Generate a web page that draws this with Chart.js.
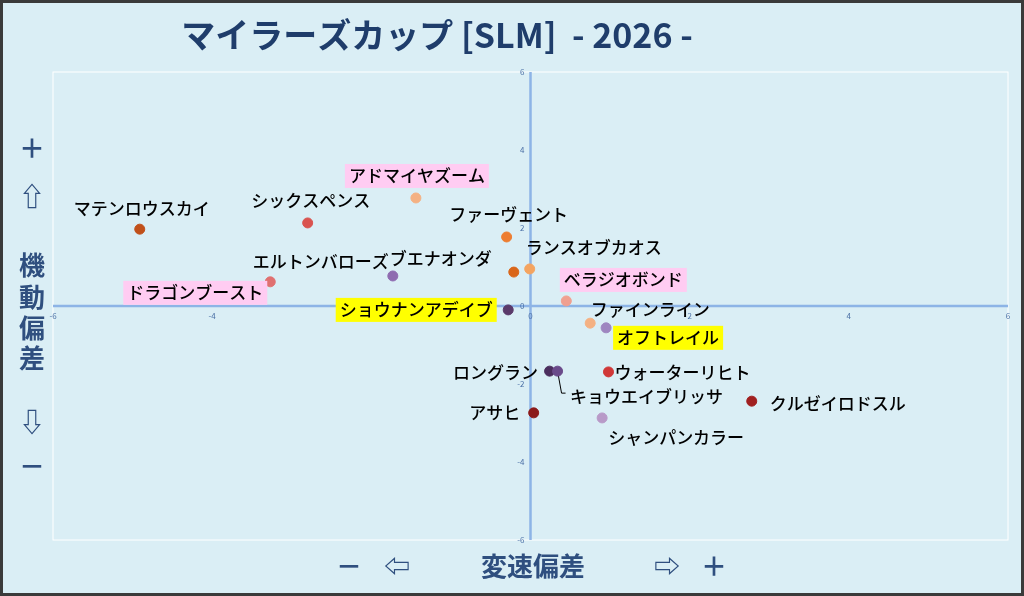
<!DOCTYPE html>
<html><head><meta charset="utf-8">
<script src="https://cdn.jsdelivr.net/npm/chart.js@4"></script>
<style>html,body{margin:0;padding:0;background:#daeef5}
#wrap{position:absolute;left:0;top:0;width:1024px;height:596px;box-sizing:border-box;border:3px solid #3a3a3a;background:#daeef5}
canvas{position:absolute;left:0;top:0}</style></head>
<body><div id="wrap"></div><canvas id="c" width="1024" height="596"></canvas>
<script>
const horses=["マテンロウスカイ","シックスペンス","アドマイヤズーム","ファーヴェント","ランスオブカオス","ブエナオンダ","エルトンバローズ","ドラゴンブースト","ベラジオボンド","ショウナンアデイブ","ファインライン","オフトレイル","ロングラン","キョウエイブリッサ","ウォーターリヒト","クルゼイロドスル","アサヒ","シャンパンカラー"];
const xVals=[-4.91,-2.80,-1.44,-0.30,-0.01,-0.21,-1.73,-3.27,0.45,-0.28,0.75,0.95,0.24,0.34,0.98,2.78,0.04,0.90];
const yVals=[1.97,2.13,2.77,1.77,0.95,0.87,0.77,0.62,0.13,-0.10,-0.44,-0.56,-1.67,-1.67,-1.69,-2.44,-2.74,-2.87];
const colors=["#c0501a","#d9534f","#f4b183","#ed7d31","#f4a460","#d9661a","#8e6bb0","#e07070","#f0a090","#5a3a6a","#f4b183","#9e86c0","#4b2e5e","#6a4a8a","#d03838","#a02020","#8b1a1a","#b89ac8"];
const highlight=[null,null,"#ffccf2",null,null,null,null,"#ffccf2","#ffccf2","#ffff00",null,"#ffff00",null,null,null,null,null,null];
const labelOffsets=[[2,-21],[3,-22],[1,-22],[2,-22],[64,-21],[-73,-14],[-72,-14],[-75,11],[57,-21],[-92,0],[60,-14],[62,10],[-54,1],[89,25],[74,1],[86,2],[-39,0],[74,20]];
const tickVals=[-6,-4,-2,0,2,4,6];
const FONT='"Noto Sans CJK JP","Noto Sans",sans-serif';
const deco={id:'deco',beforeDatasetsDraw(ch){
 const c=ch.ctx,x=ch.scales.x,y=ch.scales.y,a=ch.chartArea;
 c.save();
 c.strokeStyle='#ffffff';c.lineWidth=1;c.strokeRect(a.left,a.top,a.right-a.left,a.bottom-a.top);
 c.strokeStyle='#8db4e6';c.lineWidth=2.5;
 const x0=x.getPixelForValue(0),y0=y.getPixelForValue(0);
 c.beginPath();c.moveTo(a.left,y0);c.lineTo(a.right,y0);c.moveTo(x0,a.top);c.lineTo(x0,a.bottom);c.stroke();
 c.fillStyle='#4a6fa5';c.font='8px '+FONT;
 tickVals.forEach(v=>{c.textAlign='center';c.textBaseline='top';c.fillText(String(v),x.getPixelForValue(v),y0+6);
  c.textAlign='right';c.textBaseline='middle';c.fillText(String(v),x0-6,y.getPixelForValue(v));});
 const i=13;const px=x.getPixelForValue(xVals[i]),py=y.getPixelForValue(yVals[i]);
 c.strokeStyle='#000';c.lineWidth=1;c.beginPath();c.moveTo(px,py);c.lineTo(px+4,py+22);c.lineTo(px+8,py+22);c.stroke();
 c.restore();},
 afterDatasetsDraw(ch){
 const c=ch.ctx,x=ch.scales.x,y=ch.scales.y;c.save();c.font='500 17px '+FONT;c.textAlign='center';c.textBaseline='middle';
 horses.forEach((h,i)=>{const px=x.getPixelForValue(xVals[i])+labelOffsets[i][0],py=y.getPixelForValue(yVals[i])+labelOffsets[i][1];
  const w=c.measureText(h).width;
  if(highlight[i]){c.fillStyle=highlight[i];c.fillRect(px-w/2-4,py-12,w+8,24);}
  c.fillStyle='#000';c.fillText(h,px,py);});
 c.fillStyle='#1f3d6b';c.font='bold 34px '+FONT;c.fillText('マイラーズカップ [SLM]  - 2026 -',437,35);
 c.fillStyle='#2f4f7f';c.font='bold 26px '+FONT;
 [['＋',148],['⇧',196],['機',265],['動',297],['偏',328],['差',358],['⇩',422],['－',466]].forEach(([t,yy])=>c.fillText(t,32,yy));
 [['－',349],['⇦',397],['変速偏差',533],['⇨',667],['＋',714]].forEach(([t,xx])=>c.fillText(t,xx,566));
 c.restore();}};
new Chart(document.getElementById('c'),{type:'scatter',
 data:{datasets:[{data:xVals.map((v,i)=>({x:v,y:yVals[i]})),backgroundColor:colors,borderColor:colors,pointRadius:5,pointHoverRadius:5}]},
 options:{responsive:false,animation:false,layout:{padding:{left:53,right:16,top:72,bottom:56}},
  plugins:{legend:{display:false},tooltip:{enabled:false}},
  scales:{x:{min:-6,max:6,display:false},y:{min:-6,max:6,display:false}}},
 plugins:[deco]});
</script></body></html>
